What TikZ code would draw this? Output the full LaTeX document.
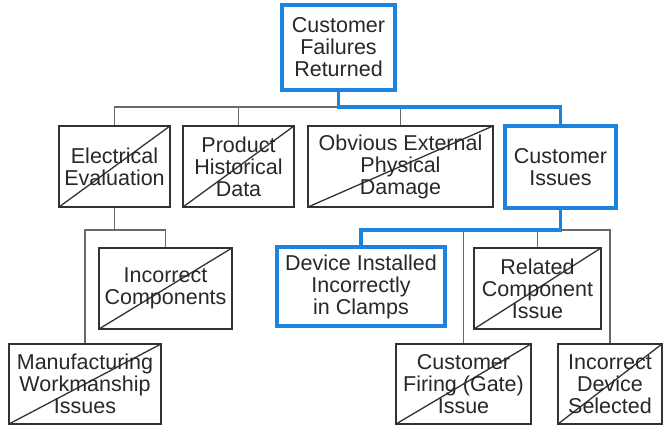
\documentclass[tikz,border=0pt]{standalone}
\usepackage{fontspec}
\setmainfont{Liberation Sans}
\definecolor{cblue}{RGB}{28,132,222}
\definecolor{cbox}{RGB}{50,50,50}
\definecolor{cline}{RGB}{105,105,105}
\definecolor{ctext}{RGB}{40,40,40}
\tikzset{
  basebox/.style={rectangle, align=center, inner sep=0pt, text=ctext,
    font=\fontsize{21.5}{22}\selectfont, fill=white},
  gbox/.style={basebox, draw=cbox, line width=2.2pt,
    path picture={\draw[cbox, line width=1.3pt]
      (path picture bounding box.south west) -- (path picture bounding box.north east);}},
  bbox/.style={basebox, draw=cblue, line width=4pt},
  gline/.style={draw=cline, line width=1.8pt},
  bline/.style={draw=cblue, line width=3.5pt},
}
\begin{document}
\begin{tikzpicture}[x=1pt, y=-1pt]
\useasboundingbox (0,0) rectangle (664,427);
\coordinate (bus1) at (0,107);
\coordinate (bus2) at (0,230);

\node[gbox, minimum width=111pt, minimum height=81pt] (elec) at (114.5,166.5) {Electrical\\Evaluation};
\node[gbox, minimum width=111pt, minimum height=81pt] (prod) at (238.5,166.5) {Product\\Historical\\Data};
\node[gbox, minimum width=185pt, minimum height=81pt] (obv) at (400.5,166.5) {Obvious External\\Physical\\Damage};
\node[bbox, minimum width=111pt, minimum height=82pt] (cust) at (560.5,167) {Customer\\Issues};
\node[bbox, minimum width=113pt, minimum height=85pt] (top) at (338.5,47.5) {Customer\\Failures\\Returned};
\node[gbox, minimum width=133pt, minimum height=81pt] (inc) at (165.5,288.5) {Incorrect\\Components};
\node[gbox, minimum width=152pt, minimum height=80pt] (man) at (85,384) {Manufacturing\\Workmanship\\Issues};
\node[bbox, minimum width=168pt, minimum height=79pt] (dev) at (361,286.5) {Device Installed\\Incorrectly\\in Clamps};
\node[gbox, minimum width=127pt, minimum height=81pt] (rel) at (537.5,288.5) {Related\\Component\\Issue};
\node[gbox, minimum width=135pt, minimum height=80pt] (fir) at (463.5,384) {Customer\\Firing (Gate)\\Issue};
\node[gbox, minimum width=104pt, minimum height=80pt] (idev) at (610,384) {Incorrect\\Device\\Selected};

% level 1 bus
\draw[gline] (elec.north) -- (elec.north |- bus1) -- (top.south |- bus1);
\draw[gline] (prod.north) -- (prod.north |- bus1);
\draw[gline] (obv.north) -- (obv.north |- bus1);
\draw[bline] (top.south) -- (top.south |- bus1) -- (cust.north |- bus1) -- (cust.north);

% electrical subtree
\draw[gline] (elec.south) -- (elec.south |- bus2);
\draw[gline] (man.north) -- (man.north |- bus2) -- (inc.north |- bus2) -- (inc.north);

% customer issues subtree
\draw[gline] (cust.south |- bus2) -- (idev.north |- bus2) -- (idev.north);
\draw[gline] (fir.north) -- (fir.north |- bus2);
\draw[gline] (rel.north) -- (rel.north |- bus2);
\draw[bline] (cust.south) -- (cust.south |- bus2) -- (dev.north |- bus2) -- (dev.north);
\end{tikzpicture}
\end{document}
